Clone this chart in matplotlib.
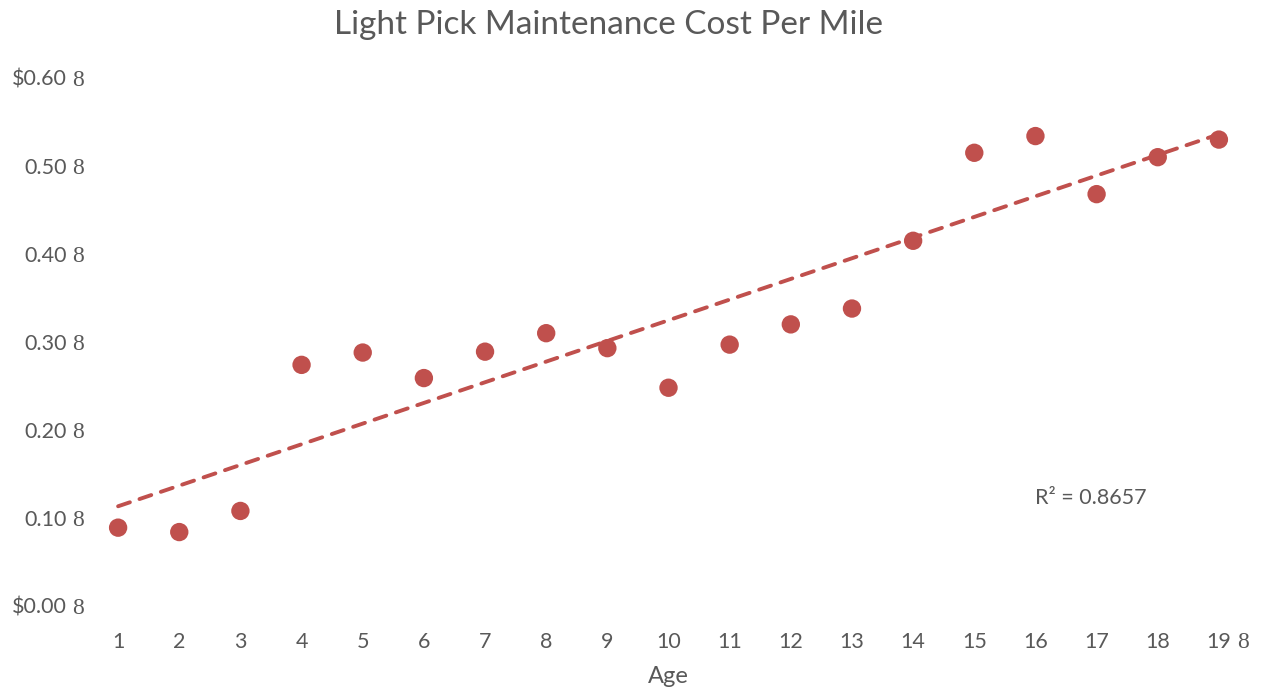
import numpy as np
import matplotlib
matplotlib.use("Agg")
import matplotlib.pyplot as plt
from matplotlib.transforms import offset_copy

# Light pickup maintenance cost per mile by vehicle age
ages = list(range(1, 20))
cost_per_mile = [0.089, 0.084, 0.108, 0.274, 0.288, 0.259, 0.289, 0.310, 0.293, 0.248,
                 0.297, 0.320, 0.338, 0.415, 0.515, 0.534, 0.468, 0.510, 0.530]
y_ticks = [0.0, 0.1, 0.2, 0.3, 0.4, 0.5, 0.6]
y_tick_labels = ["$0.00", "0.10", "0.20", "0.30", "0.40", "0.50", "$0.60"]
r2_label = "R² = 0.8657"

text_color = "#595959"
point_color = "#C0504D"
plt.rcParams["font.family"] = ["Lato", "DejaVu Sans"]

fig = plt.figure(figsize=(12.63, 6.92), dpi=100)
ax = fig.add_axes([0.0693, 0.1243, 0.92, 0.763])

x = np.array(ages)
y = np.array(cost_per_mile)
slope, intercept = np.polyfit(x, y, 1)
ax.plot([x[0], x[-1]], [slope * x[0] + intercept, slope * x[-1] + intercept],
        color=point_color, lw=2.8, ls=(0, (3.2, 2.6)), solid_capstyle="round",
        dash_capstyle="round", zorder=2)
ax.scatter(x, y, s=175, color=point_color, edgecolors="none", zorder=3)

ax.set_xlim(0.5, 19.5)
ax.set_ylim(0, 0.6)
ax.set_xticks(ages)
ax.set_xticklabels([str(a) for a in ages], fontsize=15.5, color=text_color)
ax.set_yticks(y_ticks)
ax.set_yticklabels(y_tick_labels, fontsize=15.5, color=text_color, va="center_baseline")
ax.tick_params(axis="y", length=0, pad=15)
ax.tick_params(axis="x", length=0, pad=19)
for side in ax.spines.values():
    side.set_visible(False)

# stray glyph that trails the axis labels
ytrans = offset_copy(ax.get_yaxis_transform(), fig=fig, x=-4, y=0, units="dots")
for t in y_ticks:
    ax.text(0, t, "8", transform=ytrans, ha="right", va="center_baseline",
            fontsize=17, color=text_color, family="Liberation Serif", clip_on=False)
xtrans = offset_copy(ax.get_xaxis_transform(), fig=fig, x=0, y=-34, units="dots")
ax.text(19.3, 0, "8", transform=xtrans, ha="left", va="center_baseline", fontsize=17,
        color=text_color, family="Liberation Serif", clip_on=False)

ax.set_xlabel("Age", fontsize=17, color=text_color, labelpad=10)
ax.text(0.815, 0.204, r2_label, transform=ax.transAxes, fontsize=15.5, color=text_color,
        va="center")
fig.suptitle("Light Pick Maintenance Cost Per Mile", fontsize=24, color=text_color,
             x=0.482, y=0.985)

fig.savefig("out.png", dpi=100)
